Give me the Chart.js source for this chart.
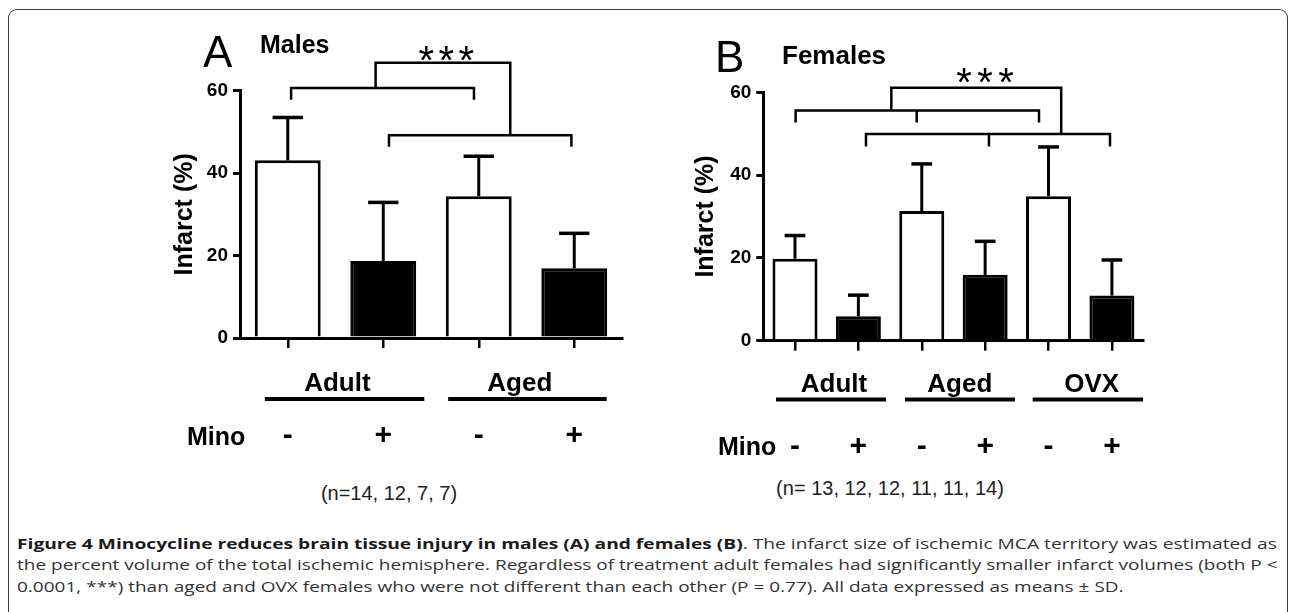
<!DOCTYPE html>
<html>
<head>
<meta charset="utf-8">
<script src="https://cdn.jsdelivr.net/npm/chart.js@4.4.1/dist/chart.umd.min.js"></script>
<style>
  body { margin: 0; background: #fff; width: 1290px; height: 612px; overflow: hidden; position: relative; font-family: 'Liberation Sans', Arial, sans-serif; }
  .frame { position: absolute; left: 8px; top: 9px; width: 1278px; height: 700px; border: 1.5px solid #3a3a3a; border-bottom: none; border-radius: 9px 9px 0 0; }
  canvas { position: absolute; }
  .txt { position: absolute; white-space: nowrap; line-height: 1; color: #000; }
  .big { font-size: 44px; }
  .head { font-weight: bold; }
  .nlab { font-size: 20px; color: #222; transform: translateX(-50%); }
  .cap { position: absolute; left: 17px; font-family: 'Open Sans', sans-serif; font-size: 15px; line-height: 22px; white-space: nowrap; transform-origin: 0 0; color: #333; }
  .cap b { color: #1a1a1a; }
</style>
</head>
<body>
<div class="frame"></div>

<canvas id="chartA" width="480" height="440" style="left:150px; top:20px;"></canvas>
<canvas id="chartB" width="510" height="440" style="left:640px; top:20px;"></canvas>

<div class="txt big" style="left:203px; top:29.5px;">A</div>
<div class="txt head" style="left:260px; top:31.5px; font-size:25px;">Males</div>
<div class="txt big" style="left:715px; top:34.5px;">B</div>
<div class="txt head" style="left:782px; top:41.5px; font-size:26px;">Females</div>

<div class="txt head" style="left:187px; top:424px; font-size:25px;">Mino</div>
<div class="txt head" style="left:718px; top:434px; font-size:25px;">Mino</div>

<div class="txt nlab" id="nA" style="left:389px; top:483px;"></div>
<div class="txt nlab" id="nB" style="left:890px; top:478px;"></div>

<div class="cap" id="cap1" style="top:531.5px;"><b>Figure 4 Minocycline reduces brain tissue injury in males (A) and females (B)</b>. The infarct size of ischemic MCA territory was estimated as</div>
<div class="cap" id="cap2" style="top:553.2px;">the percent volume of the total ischemic hemisphere. Regardless of treatment adult females had significantly smaller infarct volumes (both P &lt;</div>
<div class="cap" id="cap3" style="top:574.9px;">0.0001, ***) than aged and OVX females who were not different than each other (P = 0.77). All data expressed as means ± SD.</div>

<script>
// Panel A - males
const minoA = ['-', '+', '-', '+'];
const groupsA = ['Adult', 'Aged'];
const meanA = [43.1, 18.7, 34.4, 16.9];
const sdA = [10.4, 14.2, 9.7, 8.5];
const nA = [14, 12, 7, 7];

// Panel B - females
const minoB = ['-', '+', '-', '+', '-', '+'];
const groupsB = ['Adult', 'Aged', 'OVX'];
const meanB = [19.8, 5.9, 31.3, 15.9, 34.9, 10.9];
const sdB = [5.6, 5.1, 11.4, 8.1, 11.9, 8.6];
const nB = [13, 12, 12, 11, 11, 14];

const yTicks = [0, 20, 40, 60];

Chart.defaults.font.family = "'Liberation Sans', Arial, sans-serif";
Chart.defaults.color = '#000';

document.getElementById('nA').textContent = '(n=' + nA.join(', ') + ')';
document.getElementById('nB').textContent = '(n= ' + nB.join(', ') + ')';

/**
 * Draws error bars, group labels with underlines and significance brackets
 */
const annot = {
    id: 'annot',
    afterDatasetsDraw(chart, args, o) {
        const ctx = chart.ctx;
        const xs = chart.scales.x;
        const ys = chart.scales.y;
        ctx.save();
        ctx.strokeStyle = '#000';
        ctx.fillStyle = '#000';

        // error bars (upper half only)
        const meta = chart.getDatasetMeta(0);
        meta.data.forEach((bar, i) => {
            const top = ys.getPixelForValue(o.means[i] + o.sd[i]);
            const half = bar.width * 0.23;
            ctx.lineWidth = 3;
            ctx.beginPath();
            ctx.moveTo(bar.x, bar.y);
            ctx.lineTo(bar.x, top);
            ctx.stroke();
            ctx.lineWidth = 3.5;
            ctx.beginPath();
            ctx.moveTo(bar.x - half, top);
            ctx.lineTo(bar.x + half, top);
            ctx.stroke();
        });

        // brackets
        ctx.lineWidth = 2.5;
        ctx.lineJoin = 'miter';
        o.brackets.forEach(path => {
            ctx.beginPath();
            path.forEach((p, k) => {
                const px = xs.getPixelForValue(p[0]);
                const py = ys.getPixelForValue(p[1]);
                if (k === 0) ctx.moveTo(px, py); else ctx.lineTo(px, py);
            });
            ctx.stroke();
        });

        // stars, centred on their glyph box
        ctx.font = o.starSize + 'px ' + Chart.defaults.font.family;
        ctx.textAlign = 'center';
        ctx.textBaseline = 'alphabetic';
        const m = ctx.measureText('*');
        const sx = xs.getPixelForValue(o.starX);
        const base = ys.getPixelForValue(o.starY) + (m.actualBoundingBoxAscent - m.actualBoundingBoxDescent) / 2;
        [-1, 0, 1].forEach(k => ctx.fillText('*', sx + k * o.starGap, base));

        // group labels under the axis
        ctx.font = 'bold 26px ' + Chart.defaults.font.family;
        ctx.textBaseline = 'middle';
        o.groups.forEach((g, i) => {
            const x1 = xs.getPixelForValue(g[0]);
            const x2 = xs.getPixelForValue(g[1]);
            const tx = xs.getPixelForValue(g[2]);
            ctx.fillText(o.names[i], tx, xs.top + o.textDy);
            ctx.fillRect(x1, xs.top + o.lineDy - 2, x2 - x1, 4);
        });
        ctx.restore();
    }
};

function makeChart(id, labels, means, opts) {
    const ctx = document.getElementById(id).getContext('2d');
    return new Chart(ctx, {
        type: 'bar',
        data: {
            labels: labels,
            datasets: [{
                data: means,
                backgroundColor: labels.map(l => l === '+' ? '#000' : '#fff'),
                borderColor: '#000',
                borderWidth: 3,
                barPercentage: opts.barPct,
                categoryPercentage: 1
            }]
        },
        options: {
            responsive: false,
            animation: false,
            layout: { padding: { top: opts.padTop, right: opts.padRight, left: 0, bottom: 0 } },
            plugins: {
                legend: { display: false },
                tooltip: { enabled: false },
                annot: opts.annot
            },
            scales: {
                x: {
                    offset: true,
                    grid: { offset: false, drawOnChartArea: false, drawTicks: true, tickLength: 10, color: '#000', lineWidth: 2.5 },
                    border: { display: true, color: '#000', width: 3 },
                    ticks: { color: '#000', font: { size: 30, weight: 'bold' }, padding: opts.tickPad, autoSkip: false, maxRotation: 0 },
                    afterFit(s) {
                        s.height = opts.xHeight;
                        // the big label padding must not shrink the plot sideways
                        s.paddingLeft = 0;
                        s.paddingRight = 0;
                    }
                },
                y: {
                    min: 0,
                    max: 60,
                    afterBuildTicks(s) { s.ticks = yTicks.map(v => ({ value: v })); },
                    grid: { drawOnChartArea: false, tickLength: 7, color: '#000', lineWidth: 3 },
                    border: { display: true, color: '#000', width: 3 },
                    ticks: { color: '#000', font: { size: 19, weight: 'bold' }, padding: 5 },
                    title: {
                        display: true,
                        text: 'Infarct (%)',
                        color: '#000',
                        font: { size: 25, weight: 'bold' },
                        padding: { top: opts.titlePad, bottom: 0 }
                    },
                    afterFit(s) { s.width = opts.yWidth; }
                }
            }
        },
        plugins: [annot]
    });
}

makeChart('chartA', minoA, meanA, {
    barPct: 0.69, padTop: 70.7, padRight: 8, xHeight: 122, yWidth: 90, tickPad: 70, titlePad: 20,
    annot: {
        means: meanA, sd: sdA, names: groupsA,
        groups: [[-0.24, 1.43, 0.52], [1.68, 3.34, 2.43]],
        textDy: 46, lineDy: 61,
        brackets: [
            [[0.035, 57.8], [0.035, 60.65], [1.95, 60.65], [1.95, 57.8]],
            [[1.06, 46.4], [1.06, 49.2], [2.97, 49.2], [2.97, 46.4]],
            [[0.92, 60.65], [0.92, 66.8], [2.33, 66.8], [2.33, 49.2]]
        ],
        starX: 1.66, starY: 69, starSize: 40, starGap: 20
    }
});

makeChart('chartB', minoB, meanB, {
    barPct: 0.71, padTop: 72.3, padRight: 6.4, xHeight: 119.3, yWidth: 123.3, tickPad: 77.8, titlePad: 50.8,
    annot: {
        means: meanB, sd: sdB, names: groupsB,
        groups: [[-0.3, 1.435, 0.615], [1.735, 3.47, 2.6], [3.75, 5.49, 4.68]],
        textDy: 44.3, lineDy: 58.8,
        brackets: [
            [[0.01, 52.7], [0.01, 55.6], [3.85, 55.6], [3.85, 52.7]],
            [[1.92, 55.6], [1.92, 52.7]],
            [[1.12, 46.9], [1.12, 49.9], [4.97, 49.9], [4.97, 46.9]],
            [[3.06, 49.9], [3.06, 46.9]],
            [[1.52, 55.6], [1.52, 61.1], [4.2, 61.1], [4.2, 49.9]]
        ],
        starX: 3.0, starY: 64.0, starSize: 40, starGap: 21
    }
});

// stretch caption lines to the justified width of the reference
function fitCaption() {
    const target = 1260;
    const c1 = document.getElementById('cap1');
    const c2 = document.getElementById('cap2');
    const c3 = document.getElementById('cap3');
    const s1 = target / c1.scrollWidth;
    const s2 = target / c2.scrollWidth;
    c1.style.transform = 'scaleX(' + s1 + ')';
    c2.style.transform = 'scaleX(' + s2 + ')';
    c3.style.transform = 'scaleX(' + s2 + ')';
}
if (document.fonts && document.fonts.ready) {
    document.fonts.ready.then(fitCaption);
} else {
    fitCaption();
}
</script>
</body>
</html>
